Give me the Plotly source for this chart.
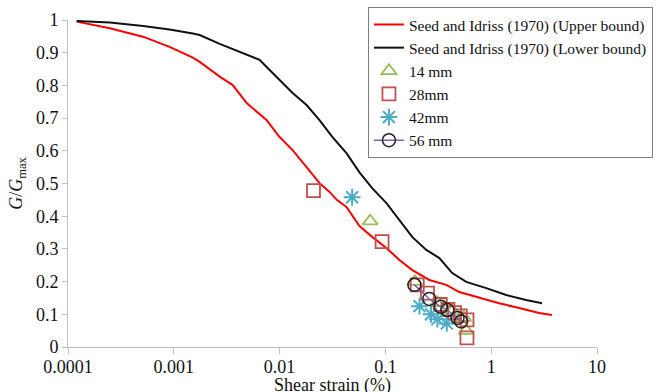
import plotly.graph_objects as go

# Seed and Idriss (1970) upper bound
upper_x = [1.208e-4, 2.49e-4, 5.10e-4, 9.12e-4, 1.514e-3, 1.758e-3, 2.716e-3, 3.606e-3,
           4.887e-3, 7.53e-3, 0.01, 0.01327, 0.01799, 0.02382, 0.02951, 0.03467, 0.04285,
           0.05689, 0.07534, 0.1023, 0.1355, 0.1799, 0.2600, 0.3758, 0.4989, 0.7709,
           1.189, 1.837, 2.838, 3.758]
upper_g = [0.995, 0.975, 0.949, 0.918, 0.885, 0.872, 0.827, 0.801,
           0.746, 0.694, 0.642, 0.602, 0.550, 0.501, 0.475, 0.450, 0.428,
           0.370, 0.336, 0.303, 0.266, 0.235, 0.205, 0.190, 0.168, 0.150,
           0.134, 0.119, 0.104, 0.098]

# Seed and Idriss (1970) lower bound
lower_x = [1.208e-4, 2.49e-4, 5.13e-4, 9.12e-4, 1.514e-3, 1.758e-3, 2.716e-3, 4.198e-3,
           6.47e-3, 7.50e-3, 0.01, 0.01327, 0.01799, 0.02382, 0.03162, 0.04285, 0.05689,
           0.07534, 0.1023, 0.1355, 0.1799, 0.2438, 0.3236, 0.4285, 0.5808, 0.8974,
           1.387, 2.138, 3.027]
lower_g = [0.997, 0.992, 0.982, 0.971, 0.959, 0.954, 0.927, 0.903,
           0.878, 0.857, 0.817, 0.777, 0.740, 0.694, 0.642, 0.593, 0.534,
           0.485, 0.440, 0.388, 0.336, 0.297, 0.272, 0.226, 0.199, 0.180,
           0.159, 0.144, 0.134]

mm14_x = [0.0718, 0.19, 0.31, 0.43, 0.55, 0.58]
mm14_g = [0.385, 0.20, 0.135, 0.11, 0.09, 0.05]

mm28_x = [0.0209, 0.093, 0.20, 0.25, 0.33, 0.39, 0.45, 0.51, 0.59, 0.59]
mm28_g = [0.478, 0.322, 0.19, 0.165, 0.13, 0.115, 0.105, 0.095, 0.083, 0.028]

mm42_x = [0.0485, 0.21, 0.27, 0.31, 0.38]
mm42_g = [0.458, 0.125, 0.10, 0.085, 0.072]

mm56_x = [0.188, 0.26, 0.335, 0.385, 0.48, 0.52]
mm56_g = [0.19, 0.147, 0.123, 0.113, 0.089, 0.078]

x_ticks = [0.0001, 0.001, 0.01, 0.1, 1, 10]
x_ticktext = ["0.0001", "0.001", "0.01", "0.1", "1", "10"]
y_ticks = [0, 0.1, 0.2, 0.3, 0.4, 0.5, 0.6, 0.7, 0.8, 0.9, 1]
y_ticktext = ["0", "0.1", "0.2", "0.3", "0.4", "0.5", "0.6", "0.7", "0.8", "0.9", "1"]

FONT = "Liberation Serif"

fig = go.Figure()
fig.add_trace(go.Scatter(x=upper_x, y=upper_g, mode="lines",
                         name="Seed and Idriss (1970) (Upper bound)",
                         line=dict(color="#FF0000", width=2)))
fig.add_trace(go.Scatter(x=lower_x, y=lower_g, mode="lines",
                         name="Seed and Idriss (1970) (Lower bound)",
                         line=dict(color="#111111", width=2)))
fig.add_trace(go.Scatter(x=mm14_x, y=mm14_g, mode="markers", name="14 mm",
                         marker=dict(symbol="triangle-up-open", size=13, color="#9BBB59",
                                     line=dict(color="#9BBB59", width=1.8))))
fig.add_trace(go.Scatter(x=mm28_x, y=mm28_g, mode="markers", name="28mm",
                         marker=dict(symbol="square-open", size=13, color="#C0504D",
                                     line=dict(color="#C0504D", width=1.8))))
fig.add_trace(go.Scatter(x=mm42_x, y=mm42_g, mode="markers", name="42mm",
                         marker=dict(symbol="asterisk-open", size=14, color="#4BACC6",
                                     line=dict(color="#4BACC6", width=2))))
fig.add_trace(go.Scatter(x=mm56_x, y=mm56_g, mode="lines+markers", name="56 mm",
                         line=dict(color="#8064A2", width=1.5),
                         marker=dict(symbol="circle-open", size=13, color="#222222",
                                     line=dict(color="#222222", width=1.5))))

fig.update_layout(
    width=662, height=392,
    margin=dict(l=68, r=65, t=20, b=45, autoexpand=False),
    paper_bgcolor="white", plot_bgcolor="white",
    font=dict(family=FONT, size=18, color="#111111"),
    showlegend=True,
    legend=dict(x=0.567, y=1.04, xanchor="left", yanchor="top",
                bordercolor="#7F7F7F", borderwidth=1, bgcolor="white",
                font=dict(family=FONT, size=15.5, color="#111111"),
                itemwidth=30, tracegroupgap=0),
    xaxis=dict(type="log", range=[-4, 1], tickvals=x_ticks, ticktext=x_ticktext,
               showgrid=False, zeroline=False, showline=True, linecolor="#BFBFBF",
               linewidth=1, ticks="outside", ticklen=6, tickcolor="#BFBFBF",
               tickfont=dict(family=FONT, size=18)),
    yaxis=dict(range=[0, 1], tickvals=y_ticks, ticktext=y_ticktext,
               showgrid=False, zeroline=False, showline=True, linecolor="#BFBFBF",
               linewidth=1, ticks="outside", ticklen=5, tickcolor="#BFBFBF",
               tickfont=dict(family=FONT, size=18),
               title=dict(text="<i>G</i>/<i>G</i><sub>max</sub>", font=dict(family=FONT, size=18),
                          standoff=8)),
    annotations=[dict(text="Shear strain (%)", xref="paper", yref="paper",
                      x=0.5, y=-0.119, xanchor="center", yanchor="middle",
                      showarrow=False, font=dict(family=FONT, size=18))],
)

try:
    fig.update_xaxes(ticklabelstandoff=-3)
except Exception:
    pass

fig.write_html("out.html")
